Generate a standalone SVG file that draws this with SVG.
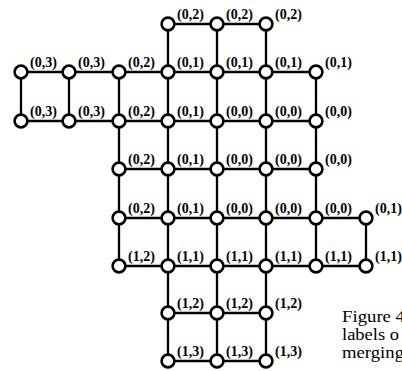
<svg xmlns="http://www.w3.org/2000/svg" width="402" height="371" viewBox="0 0 402 371">
<style>
.e{stroke:#000;stroke-width:2.3;fill:none}
.n{fill:#fff;stroke:#000;stroke-width:2.6}
.l{font-family:"Liberation Serif","Times New Roman",serif;font-weight:bold;font-size:14px;fill:#000}
.c{font-family:"Liberation Serif","Times New Roman",serif;font-size:16.2px;fill:#000}
</style>
<rect width="402" height="371" fill="#fff"/>
<g id="connectors" class="e">
<path d="M168,24H266M21,72H316M21,121H316M119,169H316M119,218H366M119,266H366M168,313H266M168,361H266"/>
<path d="M168,24V72M217,24V72M266,24V72"/>
<path d="M21,72V121M69,72V121M119,72V266M168,72V361M217,72V361M266,72V361M316,72V266M366,218V266"/>
</g>
<g id="n-r0c3"><circle class="n" cx="168" cy="24" r="6.4"/><text class="l" x="177" y="19">(0,2)</text></g>
<g id="n-r0c4"><circle class="n" cx="217" cy="24" r="6.4"/><text class="l" x="226" y="19">(0,2)</text></g>
<g id="n-r0c5"><circle class="n" cx="266" cy="24" r="6.4"/><text class="l" x="275" y="19">(0,2)</text></g>
<g id="n-r1c0"><circle class="n" cx="21" cy="72" r="6.4"/><text class="l" x="30" y="67">(0,3)</text></g>
<g id="n-r1c1"><circle class="n" cx="69" cy="72" r="6.4"/><text class="l" x="78" y="67">(0,3)</text></g>
<g id="n-r1c2"><circle class="n" cx="119" cy="72" r="6.4"/><text class="l" x="128" y="67">(0,2)</text></g>
<g id="n-r1c3"><circle class="n" cx="168" cy="72" r="6.4"/><text class="l" x="177" y="67">(0,1)</text></g>
<g id="n-r1c4"><circle class="n" cx="217" cy="72" r="6.4"/><text class="l" x="226" y="67">(0,1)</text></g>
<g id="n-r1c5"><circle class="n" cx="266" cy="72" r="6.4"/><text class="l" x="275" y="67">(0,1)</text></g>
<g id="n-r1c6"><circle class="n" cx="316" cy="72" r="6.4"/><text class="l" x="325" y="67">(0,1)</text></g>
<g id="n-r2c0"><circle class="n" cx="21" cy="121" r="6.4"/><text class="l" x="30" y="116">(0,3)</text></g>
<g id="n-r2c1"><circle class="n" cx="69" cy="121" r="6.4"/><text class="l" x="78" y="116">(0,3)</text></g>
<g id="n-r2c2"><circle class="n" cx="119" cy="121" r="6.4"/><text class="l" x="128" y="116">(0,2)</text></g>
<g id="n-r2c3"><circle class="n" cx="168" cy="121" r="6.4"/><text class="l" x="177" y="116">(0,1)</text></g>
<g id="n-r2c4"><circle class="n" cx="217" cy="121" r="6.4"/><text class="l" x="226" y="116">(0,0)</text></g>
<g id="n-r2c5"><circle class="n" cx="266" cy="121" r="6.4"/><text class="l" x="275" y="116">(0,0)</text></g>
<g id="n-r2c6"><circle class="n" cx="316" cy="121" r="6.4"/><text class="l" x="325" y="116">(0,0)</text></g>
<g id="n-r3c2"><circle class="n" cx="119" cy="169" r="6.4"/><text class="l" x="128" y="164">(0,2)</text></g>
<g id="n-r3c3"><circle class="n" cx="168" cy="169" r="6.4"/><text class="l" x="177" y="164">(0,1)</text></g>
<g id="n-r3c4"><circle class="n" cx="217" cy="169" r="6.4"/><text class="l" x="226" y="164">(0,0)</text></g>
<g id="n-r3c5"><circle class="n" cx="266" cy="169" r="6.4"/><text class="l" x="275" y="164">(0,0)</text></g>
<g id="n-r3c6"><circle class="n" cx="316" cy="169" r="6.4"/><text class="l" x="325" y="164">(0,0)</text></g>
<g id="n-r4c2"><circle class="n" cx="119" cy="218" r="6.4"/><text class="l" x="128" y="213">(0,2)</text></g>
<g id="n-r4c3"><circle class="n" cx="168" cy="218" r="6.4"/><text class="l" x="177" y="213">(0,1)</text></g>
<g id="n-r4c4"><circle class="n" cx="217" cy="218" r="6.4"/><text class="l" x="226" y="213">(0,0)</text></g>
<g id="n-r4c5"><circle class="n" cx="266" cy="218" r="6.4"/><text class="l" x="275" y="213">(0,0)</text></g>
<g id="n-r4c6"><circle class="n" cx="316" cy="218" r="6.4"/><text class="l" x="325" y="213">(0,0)</text></g>
<g id="n-r4c7"><circle class="n" cx="366" cy="218" r="6.4"/><text class="l" x="375" y="213">(0,1)</text></g>
<g id="n-r5c2"><circle class="n" cx="119" cy="266" r="6.4"/><text class="l" x="128" y="261">(1,2)</text></g>
<g id="n-r5c3"><circle class="n" cx="168" cy="266" r="6.4"/><text class="l" x="177" y="261">(1,1)</text></g>
<g id="n-r5c4"><circle class="n" cx="217" cy="266" r="6.4"/><text class="l" x="226" y="261">(1,1)</text></g>
<g id="n-r5c5"><circle class="n" cx="266" cy="266" r="6.4"/><text class="l" x="275" y="261">(1,1)</text></g>
<g id="n-r5c6"><circle class="n" cx="316" cy="266" r="6.4"/><text class="l" x="325" y="261">(1,1)</text></g>
<g id="n-r5c7"><circle class="n" cx="366" cy="266" r="6.4"/><text class="l" x="375" y="261">(1,1)</text></g>
<g id="n-r6c3"><circle class="n" cx="168" cy="313" r="6.4"/><text class="l" x="177" y="308">(1,2)</text></g>
<g id="n-r6c4"><circle class="n" cx="217" cy="313" r="6.4"/><text class="l" x="226" y="308">(1,2)</text></g>
<g id="n-r6c5"><circle class="n" cx="266" cy="313" r="6.4"/><text class="l" x="275" y="308">(1,2)</text></g>
<g id="n-r7c3"><circle class="n" cx="168" cy="361" r="6.4"/><text class="l" x="177" y="356">(1,3)</text></g>
<g id="n-r7c4"><circle class="n" cx="217" cy="361" r="6.4"/><text class="l" x="226" y="356">(1,3)</text></g>
<g id="n-r7c5"><circle class="n" cx="266" cy="361" r="6.4"/><text class="l" x="275" y="356">(1,3)</text></g>
<g id="caption">
<text class="c" x="342" y="322" textLength="63" lengthAdjust="spacingAndGlyphs">Figure 4</text>
<text class="c" x="342" y="340" textLength="57" lengthAdjust="spacingAndGlyphs">labels o</text>
<text class="c" x="342" y="358" textLength="62" lengthAdjust="spacingAndGlyphs">merging</text>
</g>
</svg>
